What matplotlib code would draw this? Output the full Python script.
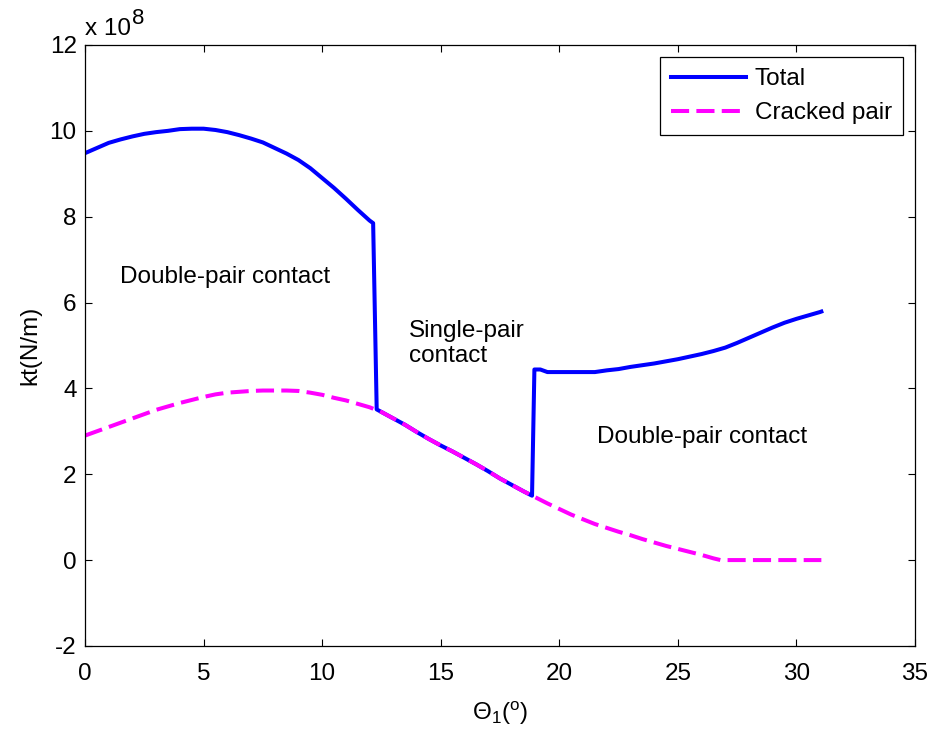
import numpy as np
import matplotlib
matplotlib.use("Agg")
import matplotlib.pyplot as plt

# ---- data (stiffness in units of 1e8 N/m) ----
theta_cracked = [0, 0.5, 1, 1.5, 2, 2.5, 3, 3.5, 4, 4.5, 5, 5.5, 6, 6.5, 7, 7.5,
                 8, 8.5, 9, 9.5, 10, 10.5, 11, 11.5, 12, 12.5, 13, 13.5, 14, 14.5,
                 15, 15.5, 16, 16.5, 17, 17.5, 18, 18.5, 19, 19.5, 20, 20.5, 21,
                 21.5, 22, 22.5, 23, 23.5, 24, 24.5, 25, 25.5, 26, 26.5, 26.8, 27,
                 28, 29, 30, 31, 31.05]
kt_cracked = [2.90, 3.00, 3.10, 3.20, 3.30, 3.40, 3.50, 3.58, 3.66, 3.73, 3.80,
              3.86, 3.90, 3.92, 3.94, 3.95, 3.95, 3.95, 3.94, 3.90, 3.85, 3.78,
              3.72, 3.64, 3.56, 3.45, 3.30, 3.15, 2.98, 2.82, 2.67, 2.53, 2.38,
              2.23, 2.07, 1.90, 1.75, 1.60, 1.46, 1.32, 1.19, 1.06, 0.95, 0.84,
              0.75, 0.66, 0.58, 0.49, 0.41, 0.33, 0.26, 0.19, 0.12, 0.04, 0.0,
              0.0, 0.0, 0.0, 0.0, 0.0, 0.0]

theta_total = [0, 0.5, 1, 1.5, 2, 2.5, 3, 3.5, 4, 4.5, 5, 5.5, 6, 6.5, 7, 7.5,
               8, 8.5, 9, 9.5, 10, 10.5, 11, 11.5, 12, 12.15, 12.3, 12.5, 13,
               13.5, 14, 14.5, 15, 15.5, 16, 16.5, 17, 17.5, 18, 18.5, 18.85,
               18.95, 19.2, 19.5, 20, 21, 21.5, 22, 22.5, 23, 23.5, 24, 24.5,
               25, 25.5, 26, 26.5, 27, 27.5, 28, 28.5, 29, 29.5, 30, 30.5, 31,
               31.05]
kt_total = [9.48, 9.60, 9.72, 9.80, 9.87, 9.93, 9.97, 10.00, 10.04, 10.05, 10.05,
            10.02, 9.97, 9.90, 9.82, 9.73, 9.60, 9.47, 9.32, 9.13, 8.90, 8.67,
            8.42, 8.16, 7.91, 7.85, 3.51, 3.45, 3.30, 3.15, 2.98, 2.82, 2.67,
            2.53, 2.38, 2.23, 2.07, 1.90, 1.75, 1.60, 1.50, 4.44, 4.44, 4.38,
            4.38, 4.38, 4.38, 4.42, 4.45, 4.50, 4.54, 4.58, 4.63, 4.68, 4.74,
            4.80, 4.87, 4.95, 5.06, 5.18, 5.30, 5.42, 5.53, 5.62, 5.70, 5.78,
            5.79]

x_ticks = [0, 5, 10, 15, 20, 25, 30, 35]
y_ticks = [-2, 0, 2, 4, 6, 8, 10, 12]

plt.rcParams['font.family'] = ['Liberation Sans', 'DejaVu Sans']
plt.rcParams['font.size'] = 17.5
plt.rcParams['axes.unicode_minus'] = False
plt.rcParams['mathtext.fontset'] = 'custom'
plt.rcParams['mathtext.rm'] = 'Liberation Sans'
plt.rcParams['mathtext.it'] = 'Liberation Sans:italic'

fig = plt.figure(figsize=(9.3, 7.34), dpi=100)
ax = fig.add_axes([0.0914, 0.12, 0.8925, 0.8187])

ax.plot(theta_total, kt_total, color='#0000ff', lw=2.9, label='Total')
ax.plot(theta_cracked, kt_cracked, color='#ff00ff', lw=2.9,
        dashes=(4.5, 1.8), label='Cracked pair')

ax.set_xlim(0, 35)
ax.set_ylim(-2, 12)
ax.set_xticks(x_ticks)
ax.set_yticks(y_ticks)
ax.tick_params(direction='in', length=5, width=0.8, top=True, right=True)
ax.tick_params(axis='x', pad=12)
ax.tick_params(axis='y', pad=6)
for s in ax.spines.values():
    s.set_linewidth(0.9)

ax.set_xlabel(r'$\Theta_1(^{\mathrm{o}})$', labelpad=11)
ax.set_ylabel('kt(N/m)', labelpad=6)

# exponent label above the y axis
t1 = ax.annotate('x 10', xy=(0, 1), xycoords='axes fraction',
                 xytext=(0, 10), textcoords='offset pixels',
                 ha='left', va='baseline')
ax.annotate('8', xy=(1, 1), xycoords=t1, xytext=(1, -11),
            textcoords='offset pixels', ha='left', va='bottom', fontsize=16)

ax.text(1.47, 6.6, 'Double-pair contact', va='center')
ax.text(13.65, 5.05, 'Single-pair\ncontact', va='center', linespacing=1.15)
ax.text(21.6, 2.86, 'Double-pair contact', va='center')

leg = ax.legend(loc='upper right', fancybox=False, edgecolor='black',
                framealpha=1, handlelength=3.1, borderpad=0.45,
                labelspacing=0.5, borderaxespad=0.5, handletextpad=0.35)
leg.get_frame().set_linewidth(0.9)

fig.savefig('out.png', dpi=100)
